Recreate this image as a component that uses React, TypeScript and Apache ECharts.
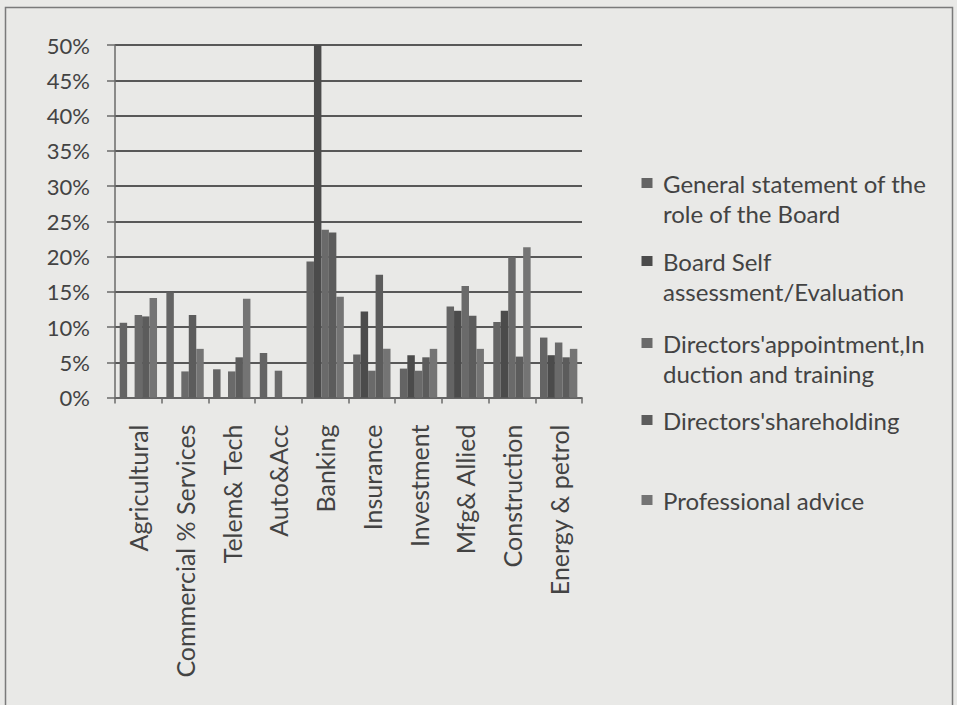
import React, { useEffect, useRef } from "react";
import * as echarts from "echarts";

const categories = [
  "Agricultural",
  "Commercial % Services",
  "Telem& Tech",
  "Auto&Acc",
  "Banking",
  "Insurance",
  "Investment",
  "Mfg& Allied",
  "Construction",
  "Energy & petrol",
];

const seriesNames = [
  "General statement of the role of the Board",
  "Board Self assessment/Evaluation",
  "Directors'appointment,Induction and training",
  "Directors'shareholding",
  "Professional advice",
];

const legendLabels = [
  "General statement of the\nrole of the Board",
  "Board Self\nassessment/Evaluation",
  "Directors'appointment,In\nduction and training",
  "Directors'shareholding",
  "Professional advice",
];

const generalStatement = [10.6, 14.9, 4.0, 6.3, 19.3, 6.1, 4.1, 12.9, 10.7, 8.5];
const boardSelf = [0, 0, 0, 0, 50, 12.2, 6.0, 12.3, 12.3, 6.0];
const directorsAppointment = [11.7, 3.7, 3.7, 3.8, 23.8, 3.8, 3.8, 15.8, 19.9, 7.8];
const directorsShareholding = [11.5, 11.7, 5.7, 0, 23.4, 17.4, 5.7, 11.6, 5.8, 5.7];
const professionalAdvice = [14.1, 6.9, 14.0, 0, 14.3, 6.9, 6.9, 6.9, 21.3, 6.9];

const yTicks = { min: 0, max: 50, interval: 5 };

const seriesData = [
  generalStatement,
  boardSelf,
  directorsAppointment,
  directorsShareholding,
  professionalAdvice,
];
const seriesColors = ["#646464", "#4b4b4b", "#6a6a6a", "#5c5c5c", "#747474"];
const legendFirstLine = [183, 261, 343, 420, 500];

export default function App() {
  const ref = useRef<HTMLDivElement>(null);
  useEffect(() => {
    if (!ref.current) return;
    const chart = echarts.init(ref.current, undefined, { renderer: "svg" });
    const font = "Lato";
    const textColor = "#434343";
    const lineH = 30;
    const legends = seriesNames.map((name, i) => ({
      data: [name],
      orient: "vertical",
      left: 647,
      top: legendFirstLine[i] - lineH / 2,
      padding: 0,
      icon: "rect",
      itemWidth: 11,
      itemHeight: 11,
      itemStyle: { opacity: 0 },
      selectedMode: false,
      formatter: () => legendLabels[i],
      textStyle: {
        fontFamily: font,
        fontSize: 24,
        color: textColor,
        lineHeight: lineH,
      },
    }));
    const legendSquares = seriesColors.map((c, i) => ({
      type: "rect",
      shape: { x: 641.5, y: legendFirstLine[i] - 5, width: 11, height: 10 },
      style: { fill: c },
      silent: true,
    }));
    chart.setOption({
      animation: false,
      backgroundColor: "#e9e9e7",
      textStyle: { fontFamily: font },
      graphic: [
        {
          type: "rect",
          shape: { x: 5.5, y: 7.5, width: 947, height: 720 },
          style: { fill: "none", stroke: "#7a7a7a", lineWidth: 1.5 },
          silent: true,
        },
        ...legendSquares,
      ],
      legend: legends,
      grid: { left: 115, top: 45, width: 467, height: 352.5, containLabel: false },
      xAxis: {
        type: "category",
        data: categories,
        boundaryGap: true,
        axisLine: { lineStyle: { color: "#6a6a6a", width: 1.5 } },
        axisTick: { show: true, length: 6, lineStyle: { color: "#6a6a6a", width: 1.5 } },
        axisLabel: {
          rotate: 90,
          interval: 0,
          margin: 27,
          fontFamily: font,
          fontSize: 25,
          color: textColor,
        },
        splitLine: { show: false },
      },
      yAxis: {
        type: "value",
        min: yTicks.min,
        max: yTicks.max,
        interval: yTicks.interval,
        axisLine: { show: true, lineStyle: { color: "#6a6a6a", width: 1.5 } },
        axisTick: { show: true, length: 8, lineStyle: { color: "#6a6a6a", width: 1.5 } },
        axisLabel: {
          formatter: "{value}%",
          margin: 25,
          fontFamily: font,
          fontSize: 22,
          color: textColor,
        },
        splitLine: { show: true, lineStyle: { color: "#585858", width: 1.8 } },
      },
      series: seriesNames.map((name, i) => ({
        name,
        type: "bar",
        data: seriesData[i],
        barGap: "0%",
        barCategoryGap: "20%",
        itemStyle: { color: seriesColors[i] },
      })),
    });
    return () => chart.dispose();
  }, []);
  return (
    <div
      ref={ref}
      style={{ position: "absolute", left: 0, top: 0, width: 957, height: 705 }}
    />
  );
}
